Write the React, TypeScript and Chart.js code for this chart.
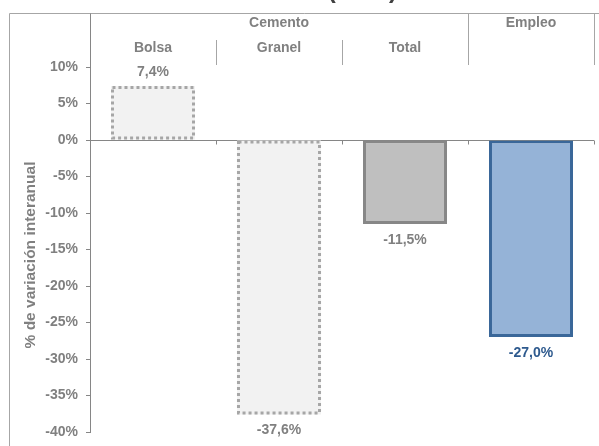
import React, { useEffect, useRef } from 'react';
import { Chart, registerables } from 'chart.js';

Chart.register(...registerables);

// Data
const categories = ['Bolsa', 'Granel', 'Total', 'Empleo'];
const groups = ['Cemento', 'Cemento', 'Cemento', 'Empleo'];
const values = [7.4, -37.6, -11.5, -27.0];
const yMin = -40;
const yMax = 10;
const yStep = 5;
const yTitle = '% de variación interanual';
const chartTitle = 'Variación interanual (2020)';

// Styles
const FONT = '"Liberation Sans", Arial, Helvetica, sans-serif';
const TEXT = '#808080';
const AXIS = '#868686';
const FRAME = '#a6a6a6';
const fills = ['#f2f2f2', '#f2f2f2', '#bfbfbf', '#95b3d7'];
const borders = ['#a6a6a6', '#a6a6a6', '#878787', '#3a6799'];
const dotted = [true, true, false, false];
const labelColors = ['#808080', '#808080', '#808080', '#2e5a8e'];

const W = 599;
const H = 446;

const fmt = (v: number) => v.toFixed(1).replace('.', ',') + '%';

const decor = {
  id: 'decor',
  beforeDatasetsDraw(chart: any) {
    const { ctx, chartArea: a, scales } = chart;
    const x = scales.x;
    const y = scales.y;
    const y0 = Math.round(y.getPixelForValue(0)) + 0.5;
    const step = x.getPixelForValue(1) - x.getPixelForValue(0);
    ctx.save();
    ctx.strokeStyle = AXIS;
    ctx.lineWidth = 1;
    ctx.beginPath();
    ctx.moveTo(a.left, y0);
    ctx.lineTo(a.right, y0);
    for (let i = 0; i < categories.length; i++) {
      const bx = Math.round(x.getPixelForValue(i) + step / 2) + 0.5;
      ctx.moveTo(bx, y0);
      ctx.lineTo(bx, y0 + 4);
    }
    ctx.stroke();
    ctx.restore();
  },
  afterDatasetsDraw(chart: any) {
    const { ctx } = chart;
    const meta = chart.getDatasetMeta(0);
    ctx.save();
    meta.data.forEach((bar: any, i: number) => {
      const { x, y, base, width } = bar.getProps(['x', 'y', 'base', 'width'], true);
      if (dotted[i]) {
        const left = x - width / 2 + 1.5;
        const right = x + width / 2 - 1.5;
        const top = Math.min(y, base) + 1.5;
        const bottom = Math.max(y, base) - 1.5;
        ctx.strokeStyle = borders[i];
        ctx.lineWidth = 3;
        ctx.setLineDash([3, 3]);
        ctx.strokeRect(left, top, right - left, bottom - top);
        ctx.setLineDash([]);
      }
      const v = values[i];
      ctx.font = `bold 14px ${FONT}`;
      ctx.fillStyle = labelColors[i];
      ctx.textAlign = 'center';
      ctx.textBaseline = 'middle';
      const ly = v >= 0 ? y - 14 : y + 16;
      ctx.fillText(fmt(v), x, ly);
    });
    ctx.restore();
  },
  afterDraw(chart: any) {
    const { ctx, chartArea: a, scales } = chart;
    const x = scales.x;
    const step = x.getPixelForValue(1) - x.getPixelForValue(0);
    const top = 13.5;
    const headBottom = 65;
    const subTop = 40;
    ctx.save();

    // outer frame
    ctx.strokeStyle = FRAME;
    ctx.lineWidth = 1;
    ctx.beginPath();
    ctx.moveTo(9.5, H);
    ctx.lineTo(9.5, top);
    ctx.lineTo(W, top);
    ctx.stroke();

    // axis line continued through the header
    const ax = Math.round(a.left) + 0.5;
    ctx.strokeStyle = AXIS;
    ctx.beginPath();
    ctx.moveTo(ax, top);
    ctx.lineTo(ax, a.bottom);
    ctx.stroke();

    // header separators
    ctx.strokeStyle = FRAME;
    ctx.beginPath();
    for (let i = 0; i < categories.length; i++) {
      const bx = Math.round(x.getPixelForValue(i) + step / 2) + 0.5;
      const groupEnd = i === categories.length - 1 || groups[i + 1] !== groups[i];
      ctx.moveTo(bx, groupEnd ? top : subTop);
      ctx.lineTo(bx, headBottom);
    }
    ctx.stroke();

    // header texts
    ctx.font = `bold 14px ${FONT}`;
    ctx.fillStyle = TEXT;
    ctx.textAlign = 'center';
    ctx.textBaseline = 'middle';
    let start = 0;
    for (let i = 0; i < categories.length; i++) {
      const groupEnd = i === categories.length - 1 || groups[i + 1] !== groups[i];
      if (groupEnd) {
        const l = x.getPixelForValue(start) - step / 2;
        const r = x.getPixelForValue(i) + step / 2;
        ctx.fillText(groups[i], (l + r) / 2, 23);
        if (i > start) {
          for (let j = start; j <= i; j++) {
            ctx.fillText(categories[j], x.getPixelForValue(j), 48);
          }
        }
        start = i + 1;
      }
    }

    // y axis title
    ctx.save();
    ctx.font = `bold 15.5px ${FONT}`;
    ctx.translate(31, 255);
    ctx.rotate(-Math.PI / 2);
    ctx.fillText(yTitle, 0, 0);
    ctx.restore();

    // chart title
    ctx.font = `bold 24px ${FONT}`;
    ctx.fillStyle = '#404040';
    ctx.textAlign = 'right';
    ctx.textBaseline = 'alphabetic';
    ctx.fillText(chartTitle, 397, -2);

    ctx.restore();
  },
};

export default function App() {
  const ref = useRef<HTMLCanvasElement | null>(null);

  useEffect(() => {
    if (!ref.current) return;
    const chart = new Chart(ref.current, {
      type: 'bar',
      data: {
        labels: categories,
        datasets: [
          {
            data: values,
            backgroundColor: fills,
            borderColor: borders,
            borderWidth: dotted.map((d) => (d ? 0 : 3)),
            borderSkipped: false,
            barPercentage: 1,
            categoryPercentage: 0.667,
          },
        ],
      },
      options: {
        responsive: false,
        animation: false,
        devicePixelRatio: 1,
        layout: { padding: { left: 0, right: 5, top: 67, bottom: 14 } },
        plugins: {
          legend: { display: false },
          tooltip: { enabled: false },
          title: { display: false },
        },
        scales: {
          x: {
            display: false,
          },
          y: {
            min: yMin,
            max: yMax,
            afterFit: (s: any) => {
              s.width = 90;
              s.paddingTop = 0;
              s.paddingBottom = 0;
            },
            ticks: {
              stepSize: yStep,
              padding: 8,
              color: TEXT,
              font: { family: FONT, size: 14, weight: 'bold' },
              callback: (v: any) => `${v}%`,
            },
            grid: {
              drawOnChartArea: false,
              drawTicks: true,
              tickLength: 4,
              color: AXIS,
            },
            border: { display: true, color: AXIS },
          },
        },
      },
      plugins: [decor],
    });
    return () => chart.destroy();
  }, []);

  return (
    <div style={{ position: 'fixed', left: 0, top: 0, width: W, height: H, background: '#fff' }}>
      <canvas ref={ref} width={W} height={H} style={{ display: 'block' }} />
    </div>
  );
}
